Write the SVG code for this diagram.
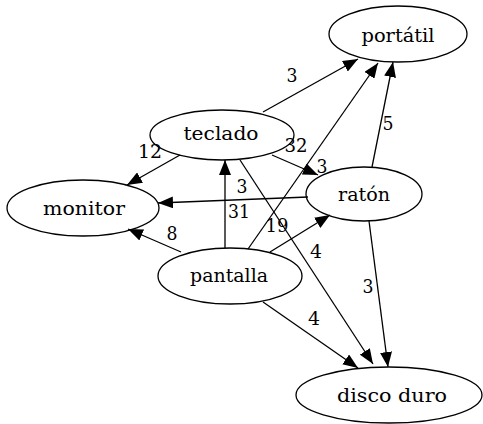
<svg xmlns="http://www.w3.org/2000/svg" width="483" height="424" viewBox="0 0 483 424">
<style>
.n ellipse{fill:none;stroke:#000;stroke-width:1.3}
.t{font-family:'DejaVu Serif','Liberation Serif',serif;font-size:18px;text-anchor:middle;fill:#000}
.e line{stroke:#000;stroke-width:1.3;marker-end:url(#ah)}
</style>
<defs>
<marker id="ah" viewBox="0 0 15 12" refX="15" refY="6" markerUnits="userSpaceOnUse" markerWidth="15" markerHeight="12" orient="auto">
<path d="M0,0 L15,6 L0,12 Z" fill="#000"/>
</marker>
</defs>
<rect width="483" height="424" fill="#fff"/>
<g class="e" id="edges">
<line x1="263" y1="112" x2="358" y2="59"/>
<line x1="180" y1="155" x2="127" y2="185"/>
<line x1="272" y1="155" x2="318" y2="175"/>
<line x1="240" y1="160" x2="373" y2="364"/>
<line x1="225" y1="248" x2="225" y2="160"/>
<line x1="248" y1="249" x2="378" y2="63"/>
<line x1="270" y1="252" x2="330" y2="215"/>
<line x1="181" y1="252" x2="128" y2="229"/>
<line x1="263" y1="302" x2="358" y2="368"/>
<line x1="372" y1="167" x2="393" y2="62"/>
<line x1="308" y1="197" x2="158" y2="203"/>
<line x1="369" y1="221" x2="388" y2="367"/>
<text class="t" x="292" y="82" textLength="11" lengthAdjust="spacingAndGlyphs">3</text>
<text class="t" x="150" y="158" textLength="24" lengthAdjust="spacingAndGlyphs">12</text>
<text class="t" x="296" y="152" textLength="23" lengthAdjust="spacingAndGlyphs">32</text>
<text class="t" x="322" y="173" textLength="11" lengthAdjust="spacingAndGlyphs">3</text>
<text class="t" x="242" y="193" textLength="11" lengthAdjust="spacingAndGlyphs">3</text>
<text class="t" x="239" y="218" textLength="22" lengthAdjust="spacingAndGlyphs">31</text>
<text class="t" x="277" y="232" textLength="23" lengthAdjust="spacingAndGlyphs">19</text>
<text class="t" x="316" y="258" textLength="12" lengthAdjust="spacingAndGlyphs">4</text>
<text class="t" x="172" y="240" textLength="11" lengthAdjust="spacingAndGlyphs">8</text>
<text class="t" x="388" y="130" textLength="11" lengthAdjust="spacingAndGlyphs">5</text>
<text class="t" x="368" y="293" textLength="11" lengthAdjust="spacingAndGlyphs">3</text>
<text class="t" x="314" y="325" textLength="12" lengthAdjust="spacingAndGlyphs">4</text>
</g>
<g class="n" id="portatil"><ellipse cx="398" cy="34" rx="69" ry="28"/><text class="t" x="398" y="42" textLength="73" lengthAdjust="spacingAndGlyphs">portátil</text></g>
<g class="n" id="teclado"><ellipse cx="222" cy="135" rx="72" ry="25"/><text class="t" x="221" y="140" textLength="75" lengthAdjust="spacingAndGlyphs">teclado</text></g>
<g class="n" id="raton"><ellipse cx="364" cy="194" rx="58" ry="27"/><text class="t" x="364" y="201" textLength="52" lengthAdjust="spacingAndGlyphs">ratón</text></g>
<g class="n" id="monitor"><ellipse cx="83" cy="208" rx="76" ry="28"/><text class="t" x="84" y="215" textLength="82" lengthAdjust="spacingAndGlyphs">monitor</text></g>
<g class="n" id="pantalla"><ellipse cx="230" cy="276" rx="72" ry="28"/><text class="t" x="229" y="282" textLength="78" lengthAdjust="spacingAndGlyphs">pantalla</text></g>
<g class="n" id="disco"><ellipse cx="389" cy="395" rx="93" ry="28"/><text class="t" x="392" y="402" textLength="110" lengthAdjust="spacingAndGlyphs">disco duro</text></g>
</svg>
